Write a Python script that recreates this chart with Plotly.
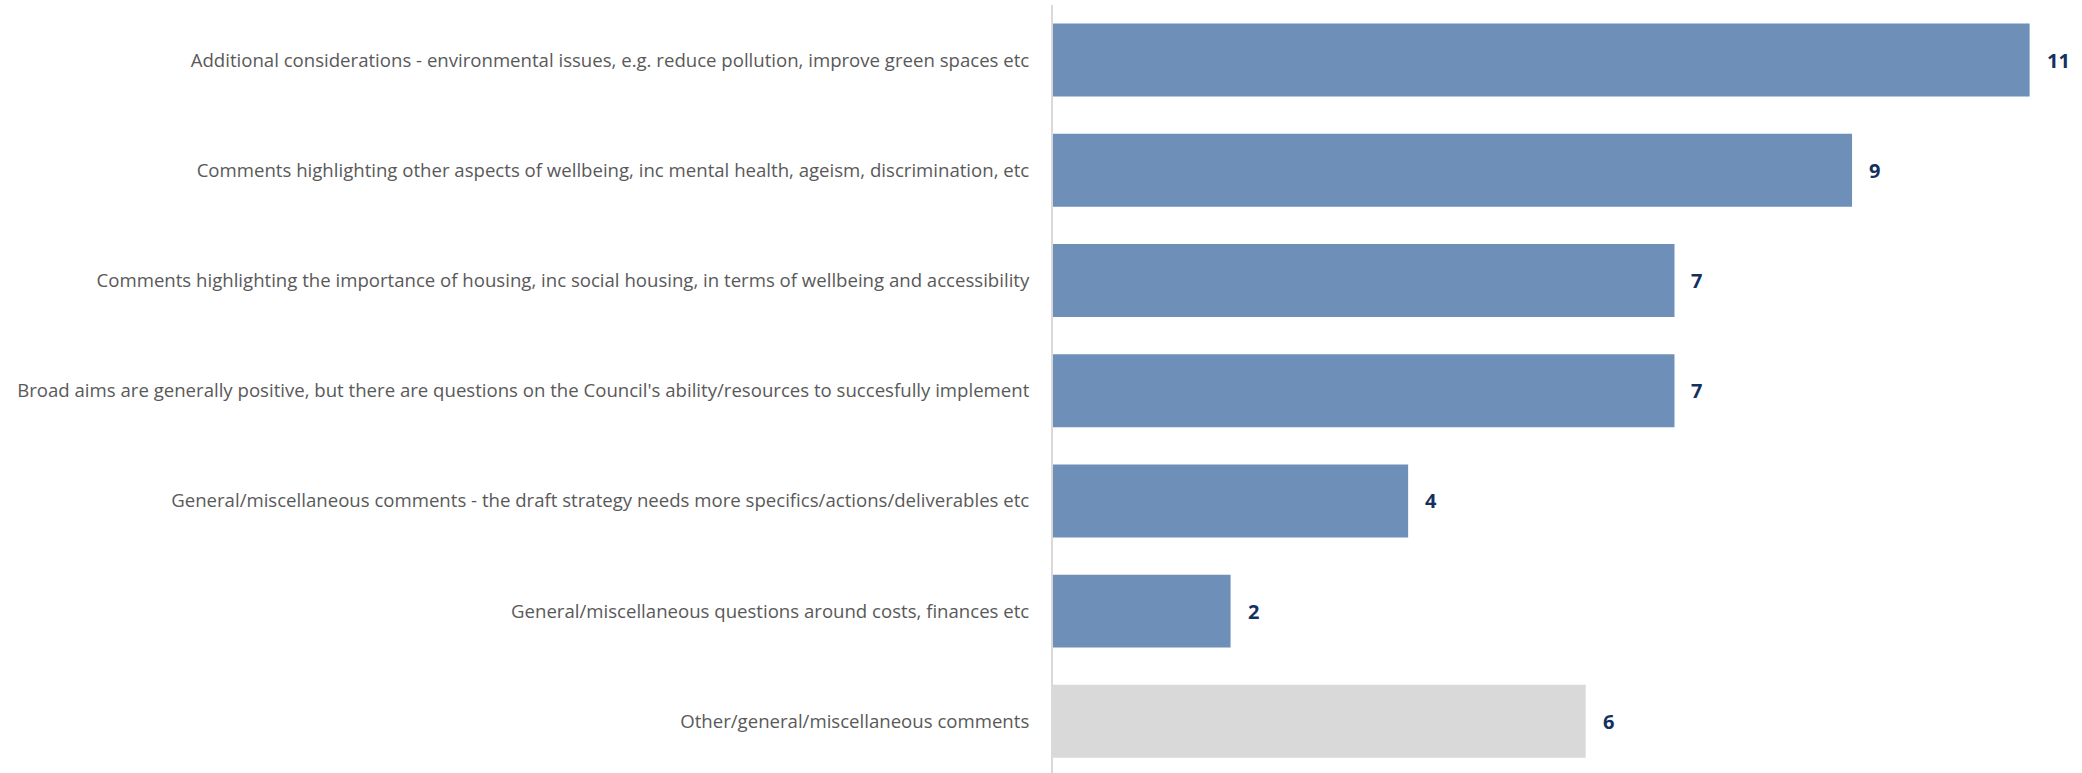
import plotly.graph_objects as go

categories = [
    "Additional considerations - environmental issues, e.g. reduce pollution, improve green spaces etc",
    "Comments highlighting other aspects of wellbeing, inc mental health, ageism, discrimination, etc",
    "Comments highlighting the importance of housing, inc social housing, in terms of wellbeing and accessibility",
    "Broad aims are generally positive, but there are questions on the Council's ability/resources to succesfully implement",
    "General/miscellaneous comments - the draft strategy needs more specifics/actions/deliverables etc",
    "General/miscellaneous questions around costs, finances etc",
    "Other/general/miscellaneous comments",
]
values = [11, 9, 7, 7, 4, 2, 6]
colors = ["#6D8FB8"] * 6 + ["#D9D9D9"]

fig = go.Figure()
fig.add_trace(go.Bar(
    y=categories, x=values, orientation="h",
    marker=dict(color=colors, line=dict(width=0)),
    hoverinfo="x+y",
))
for c, v in zip(categories, values):
    fig.add_annotation(x=v, y=c, text="<b>%d</b>" % v, showarrow=False,
                       xanchor="left", xshift=15,
                       font=dict(family="Open Sans", size=20, color="#13305F"))

fig.update_layout(
    width=2082, height=773,
    margin=dict(l=1053, r=0, t=5, b=0),
    plot_bgcolor="white", paper_bgcolor="white",
    bargap=0.338,
    showlegend=False,
    font=dict(family="Open Sans", size=18.6, color="#595959"),
)
fig.update_xaxes(range=[0, 11.59], showgrid=False, zeroline=False,
                 showticklabels=False, showline=False)
fig.update_yaxes(range=[6.469, -0.5], showline=True, linecolor="#D9D9D9",
                 linewidth=2, ticks="", ticklabelstandoff=18,
                 tickfont=dict(family="Open Sans", size=18.6, color="#595959"))

fig.write_html("out.html")
